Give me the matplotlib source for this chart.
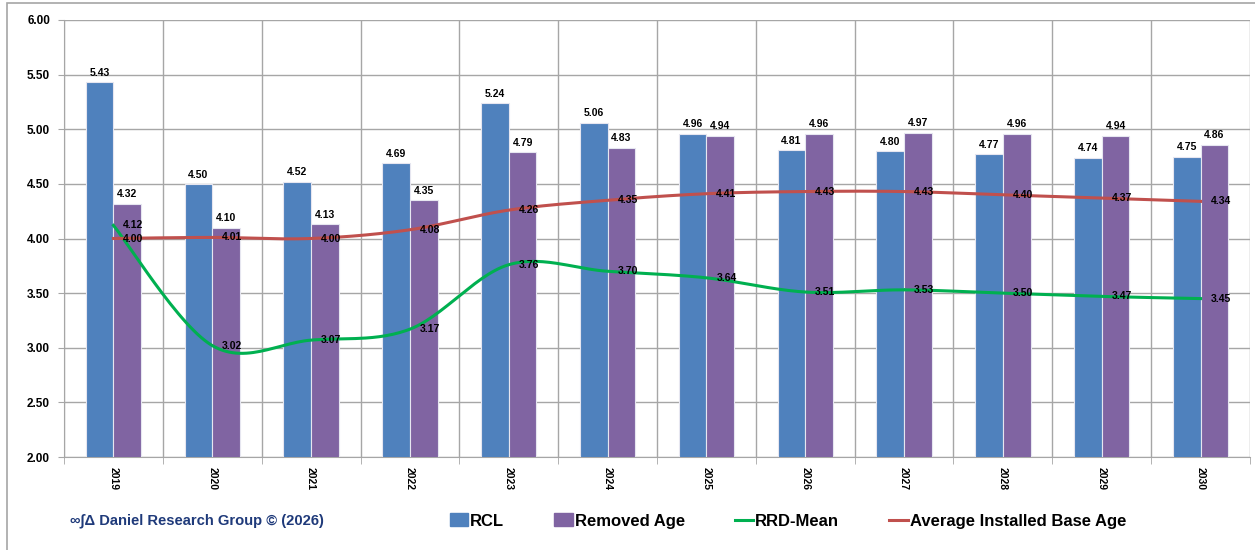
import numpy as np
import matplotlib
matplotlib.use("Agg")
import matplotlib.pyplot as plt
from matplotlib.patches import Rectangle
from matplotlib.lines import Line2D
from matplotlib.patches import Patch

years = ["2019", "2020", "2021", "2022", "2023", "2024", "2025", "2026", "2027", "2028", "2029", "2030"]
rcl = [5.43, 4.50, 4.52, 4.69, 5.24, 5.06, 4.96, 4.81, 4.80, 4.77, 4.74, 4.75]
removed_age = [4.32, 4.10, 4.13, 4.35, 4.79, 4.83, 4.94, 4.96, 4.97, 4.96, 4.94, 4.86]
rrd_mean = [4.12, 3.02, 3.07, 3.17, 3.76, 3.70, 3.64, 3.51, 3.53, 3.50, 3.47, 3.45]
avg_base_age = [4.00, 4.01, 4.00, 4.08, 4.26, 4.35, 4.41, 4.43, 4.43, 4.40, 4.37, 4.34]

BLUE = "#4F81BD"
PURPLE = "#8064A2"
GREEN = "#00B050"
RED = "#C0504D"
GRID = "#A6A6A6"


def smooth(x, y, n=30):
    # excel style smoothed line (catmull-rom through the points)
    x = np.asarray(x, float)
    y = np.asarray(y, float)
    px = np.concatenate([[x[0]], x, [x[-1]]])
    py = np.concatenate([[y[0]], y, [y[-1]]])
    xs, ys = [], []
    t = np.linspace(0, 1, n)
    for i in range(1, len(px) - 2):
        for arr, out in ((px, xs), (py, ys)):
            p0, p1, p2, p3 = arr[i - 1], arr[i], arr[i + 1], arr[i + 2]
            out.extend(0.5 * (2 * p1 + (-p0 + p2) * t + (2 * p0 - 5 * p1 + 4 * p2 - p3) * t ** 2
                              + (-p0 + 3 * p1 - 3 * p2 + p3) * t ** 3))
    return np.array(xs), np.array(ys)


plt.rcParams['font.family'] = ['Liberation Sans', 'DejaVu Sans']

fig = plt.figure(figsize=(12.55, 5.5), dpi=100)
fig.patches.append(Rectangle((7 / 1255, -0.02), 1.1, 1 - 3 / 550 + 0.02, transform=fig.transFigure,
                             fill=False, edgecolor="#A6A6A6", lw=1.2))
ax = fig.add_axes([64 / 1255, 1 - 457 / 550, 1186 / 1255, 437 / 550])

x = np.arange(len(years))
w = 0.28
ax.bar(x - w / 2, rcl, w, color=BLUE, edgecolor="#E6E6F0", lw=0.8, zorder=3)
ax.bar(x + w / 2, removed_age, w, color=PURPLE, edgecolor="#E6E6F0", lw=0.8, zorder=3)

sx, sy = smooth(x, rrd_mean)
ax.plot(sx, sy, color=GREEN, lw=2.2, zorder=4)
sx, sy = smooth(x, avg_base_age)
ax.plot(sx, sy, color=RED, lw=2.2, zorder=4)

lab = dict(fontsize=7.5, fontweight="bold", color="black", zorder=6)
for i in x:
    ax.text(i - w / 2, rcl[i] + 0.04, f"{rcl[i]:.2f}", ha="center", va="bottom", **lab)
    ax.text(i + w / 2, removed_age[i] + 0.04, f"{removed_age[i]:.2f}", ha="center", va="bottom", **lab)
    ax.text(i + 0.1, rrd_mean[i], f"{rrd_mean[i]:.2f}", ha="left", va="center", **lab)
    ax.text(i + 0.1, avg_base_age[i], f"{avg_base_age[i]:.2f}", ha="left", va="center", **lab)

ax.set_xlim(-0.5, len(years) - 0.5)
ax.set_ylim(2, 6)
ax.set_yticks(np.arange(2, 6.01, 0.5))
ax.set_yticklabels([f"{v:.2f}" for v in np.arange(2, 6.01, 0.5)], fontsize=8.5, fontweight="bold")
ax.set_xticks(x)
ax.set_xticklabels(years, rotation=-90, fontsize=7.5, fontweight="bold")
ax.tick_params(axis="x", length=0, pad=7)
ax.set_xticks(np.arange(-0.5, len(years), 1), minor=True)
ax.tick_params(axis="x", which="minor", length=5, color=GRID)
ax.tick_params(axis="y", length=4, color=GRID, pad=6)
ax.grid(axis="y", color=GRID, lw=1, zorder=0)
ax.grid(axis="x", which="minor", color=GRID, lw=1, zorder=0)
ax.set_axisbelow(True)
for s in ["top", "right"]:
    ax.spines[s].set_visible(False)
for s in ["left", "bottom"]:
    ax.spines[s].set_color(GRID)

handles = [Patch(color=BLUE), Patch(color=PURPLE),
           Line2D([], [], color=GREEN, lw=2.2), Line2D([], [], color=RED, lw=2.2)]
labels = ["RCL", "Removed Age", "RRD-Mean", "Average Installed Base Age"]
fig.legend(handles, labels, loc="center", bbox_to_anchor=(788 / 1255, 1 - 521 / 550), ncol=4, frameon=False,
           prop=dict(size=12, weight="bold"), handlelength=1.1, handleheight=0.8, handletextpad=0.12,
           columnspacing=3.0)

fig.text(70 / 1255, 1 - 521 / 550, "∞∫Δ Daniel Research Group © (2026)", color="#1F3A7A",
         fontsize=10.6, fontweight="bold", va="center", ha="left")

plt.savefig("out.png", dpi=100)
